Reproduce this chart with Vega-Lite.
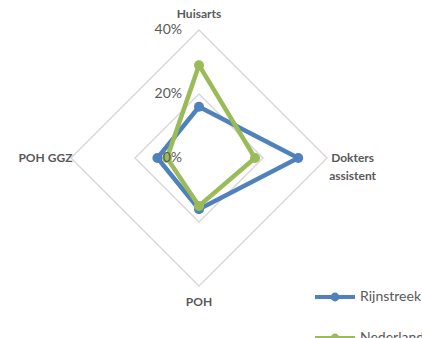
{
  "$schema": "https://vega.github.io/schema/vega-lite/v6.json",
  "width": 422,
  "height": 338,
  "autosize": {"type": "none"},
  "padding": 0,
  "background": "white",
  "config": {"view": {"stroke": null}, "font": "Lato"},
  "datasets": {
    "values": [
      {"category": "Huisarts", "order": 0, "series": "Rijnstreek", "value": 16},
      {"category": "Dokters assistent", "order": 1, "series": "Rijnstreek", "value": 31},
      {"category": "POH", "order": 2, "series": "Rijnstreek", "value": 16},
      {"category": "POH GGZ", "order": 3, "series": "Rijnstreek", "value": 13},
      {"category": "Huisarts", "order": 0, "series": "Nederland", "value": 29},
      {"category": "Dokters assistent", "order": 1, "series": "Nederland", "value": 17.5},
      {"category": "POH", "order": 2, "series": "Nederland", "value": 15},
      {"category": "POH GGZ", "order": 3, "series": "Nederland", "value": 10}
    ],
    "grid": [
      {"order": 0, "level": 20}, {"order": 1, "level": 20}, {"order": 2, "level": 20}, {"order": 3, "level": 20},
      {"order": 0, "level": 40}, {"order": 1, "level": 40}, {"order": 2, "level": 40}, {"order": 3, "level": 40}
    ],
    "ticks": [
      {"value": 0, "label": "0%"},
      {"value": 20, "label": "20%"},
      {"value": 40, "label": "40%"}
    ],
    "labels": [
      {"order": 0, "text": "Huisarts"},
      {"order": 1, "text": "Dokters\nassistent"},
      {"order": 2, "text": "POH"},
      {"order": 3, "text": "POH GGZ"}
    ]
  },
  "encoding": {
    "x": {"field": "x", "type": "quantitative", "scale": {"domain": [-62.1875, 69.6875], "nice": false, "zero": false}, "axis": null},
    "y": {"field": "y", "type": "quantitative", "scale": {"domain": [-56.25, 49.375], "nice": false, "zero": false}, "axis": null}
  },
  "layer": [
    {
      "data": {"name": "grid"},
      "transform": [
        {"calculate": "datum.level * sin(datum.order * PI / 2)", "as": "x"},
        {"calculate": "datum.level * cos(datum.order * PI / 2)", "as": "y"}
      ],
      "mark": {"type": "line", "interpolate": "linear-closed", "color": "#D9D9D9", "strokeWidth": 1.5},
      "encoding": {
        "detail": {"field": "level", "type": "nominal"},
        "order": {"field": "order", "type": "quantitative"}
      }
    },
    {
      "data": {"name": "values"},
      "transform": [
        {"calculate": "datum.value * sin(datum.order * PI / 2)", "as": "x"},
        {"calculate": "datum.value * cos(datum.order * PI / 2)", "as": "y"}
      ],
      "mark": {"type": "line", "interpolate": "linear-closed", "strokeWidth": 4.5, "point": {"filled": true, "size": 100}},
      "encoding": {
        "order": {"field": "order", "type": "quantitative"},
        "color": {
          "field": "series",
          "type": "nominal",
          "scale": {"domain": ["Rijnstreek", "Nederland"], "range": ["#4F81BD", "#9BBB59"]},
          "legend": {
            "title": null,
            "orient": "none",
            "legendX": 313,
            "legendY": 275,
            "symbolType": "M-1,0L1,0M-0.12,0A0.12,0.12,0,1,0,0.12,0A0.12,0.12,0,1,0,-0.12,0",
            "symbolSize": 1600,
            "symbolStrokeWidth": 4,
            "labelFontSize": 14,
            "labelColor": "#595959",
            "labelOffset": 3,
            "rowPadding": 8,
            "padding": 0
          }
        }
      }
    },
    {
      "data": {"name": "ticks"},
      "transform": [
        {"calculate": "0", "as": "x"},
        {"calculate": "datum.value", "as": "y"}
      ],
      "mark": {"type": "text", "align": "right", "baseline": "middle", "dx": -17, "fontSize": 14, "color": "#595959"},
      "encoding": {"text": {"field": "label", "type": "nominal"}}
    },
    {
      "data": {"name": "labels"},
      "transform": [
        {"calculate": "datum.order % 2 == 1 ? 48 : 45", "as": "r"},
        {"calculate": "datum.r * sin(datum.order * PI / 2)", "as": "x"},
        {"calculate": "datum.r * cos(datum.order * PI / 2)", "as": "y"}
      ],
      "mark": {"type": "text", "align": "center", "baseline": "middle", "fontSize": 12, "fontWeight": "bold", "color": "#595959", "lineBreak": "\n", "lineHeight": 18},
      "encoding": {"text": {"field": "text", "type": "nominal"}}
    }
  ]
}
